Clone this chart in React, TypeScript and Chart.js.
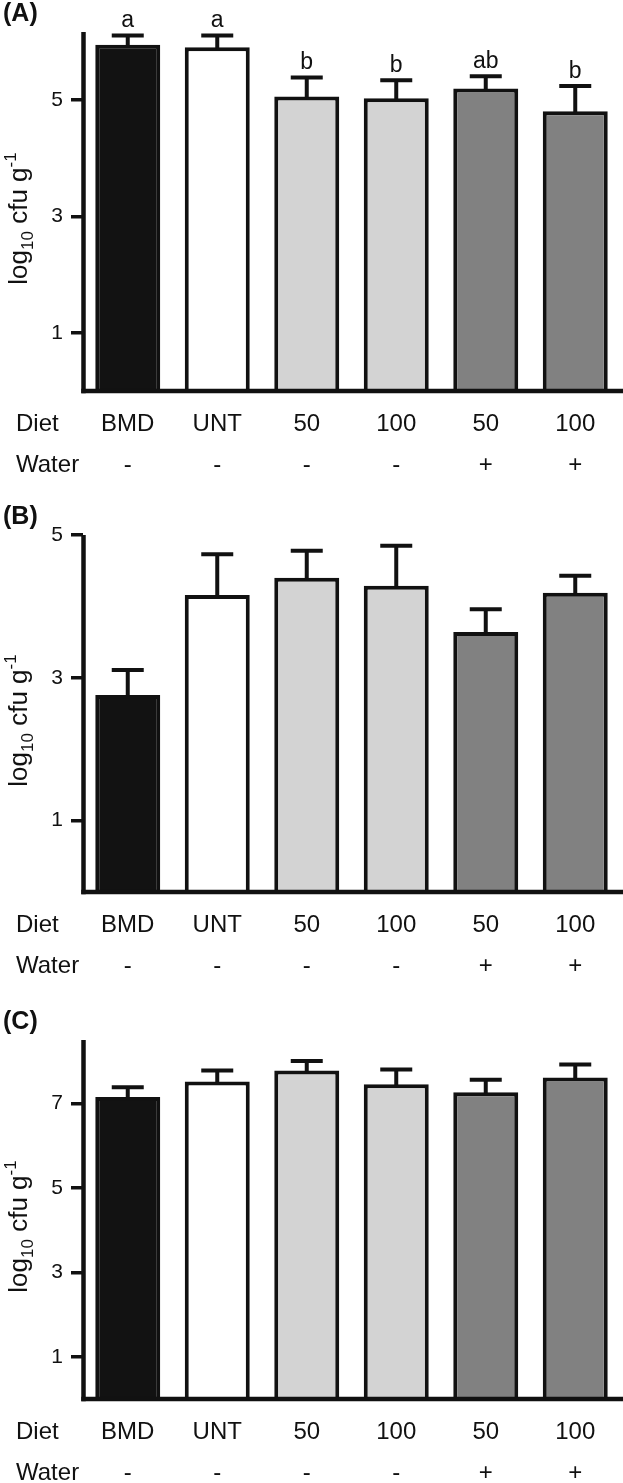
import React, { useEffect, useRef } from "react";
import { Chart, registerables } from "chart.js";
Chart.register(...registerables);

const categories = ["BMD", "UNT", "50", "100", "50", "100"];
const waterLabels = ["-", "-", "-", "-", "+", "+"];
const rowLabels = ["Diet", "Water"];

const meansA = [5.95, 5.91, 5.06, 5.03, 5.2, 4.81];
const errorsA = [0.16, 0.2, 0.33, 0.31, 0.21, 0.43];
const lettersA = ["a", "a", "b", "b", "ab", "b"];
const ticksA = [1, 3, 5];

const meansB = [2.76, 4.16, 4.4, 4.29, 3.64, 4.19];
const errorsB = [0.35, 0.57, 0.38, 0.56, 0.32, 0.24];
const ticksB = [1, 3, 5];

const meansC = [7.15, 7.52, 7.78, 7.45, 7.26, 7.61];
const errorsC = [0.23, 0.26, 0.22, 0.35, 0.3, 0.31];
const ticksC = [1, 3, 5, 7];

const INK = "#111111";
const FILLS = ["#121212", "#ffffff", "#d3d3d3", "#d3d3d3", "#818181", "#818181"];
const FONT = '"Liberation Sans", Arial, Helvetica, sans-serif';
const X_FONT = 24;
const X_LINE = 41;
const X_PAD = 13;

type Panel = {
  name: string;
  means: number[];
  errors: number[];
  letters?: string[];
  ticks: number[];
  yMax: number;
  top: number;
  height: number;
  plotTop: number;
  plotBottom: number;
};

const panels: Panel[] = [
  { name: "(A)", means: meansA, errors: errorsA, letters: lettersA, ticks: ticksA, yMax: 6.17, top: 0, height: 480, plotTop: 32, plotBottom: 391 },
  { name: "(B)", means: meansB, errors: errorsB, ticks: ticksB, yMax: 5, top: 480, height: 500, plotTop: 535, plotBottom: 892 },
  { name: "(C)", means: meansC, errors: errorsC, ticks: ticksC, yMax: 8.5, top: 980, height: 503, plotTop: 1040, plotBottom: 1399 },
];

function drawYTitle(ctx: CanvasRenderingContext2D, cx: number, cy: number) {
  const F = 26;
  const S = 17;
  const segs = [
    { t: "log", size: F, dy: 0 },
    { t: "10", size: S, dy: 0.22 * F },
    { t: " cfu g", size: F, dy: 0 },
    { t: "-1", size: S, dy: -0.42 * F },
  ];
  let total = 0;
  const widths: number[] = [];
  segs.forEach((s) => {
    ctx.font = `${s.size}px ${FONT}`;
    const w = ctx.measureText(s.t).width;
    widths.push(w);
    total += w;
  });
  ctx.save();
  ctx.translate(cx, cy);
  ctx.rotate(-Math.PI / 2);
  ctx.fillStyle = INK;
  ctx.textBaseline = "alphabetic";
  ctx.textAlign = "left";
  let x = -total / 2;
  segs.forEach((s, i) => {
    ctx.font = `${s.size}px ${FONT}`;
    ctx.fillText(s.t, x, s.dy);
    x += widths[i];
  });
  ctx.restore();
}

function makePlugin(p: Panel) {
  return {
    id: "panelDecor",
    afterDatasetsDraw(chart: any) {
      const ctx: CanvasRenderingContext2D = chart.ctx;
      const ca = chart.chartArea;
      const y = chart.scales.y;
      const meta = chart.getDatasetMeta(0);
      ctx.save();
      ctx.strokeStyle = INK;
      ctx.fillStyle = INK;
      ctx.lineWidth = 4;
      ctx.lineCap = "butt";
      meta.data.forEach((el: any, i: number) => {
        const x = el.x;
        const yTop = y.getPixelForValue(p.means[i]);
        const yCap = y.getPixelForValue(p.means[i] + p.errors[i]);
        ctx.beginPath();
        ctx.moveTo(x, yTop + 1);
        ctx.lineTo(x, yCap);
        ctx.stroke();
        ctx.beginPath();
        ctx.moveTo(x - 16, yCap);
        ctx.lineTo(x + 16, yCap);
        ctx.stroke();
        if (p.letters) {
          ctx.font = `23px ${FONT}`;
          ctx.textAlign = "center";
          ctx.textBaseline = "alphabetic";
          ctx.fillText(p.letters[i], x, yCap - 8);
        }
      });
      // axes
      ctx.lineWidth = 4.5;
      const ax = ca.left + 0.5;
      ctx.beginPath();
      ctx.moveTo(ax, ca.top);
      ctx.lineTo(ax, ca.bottom + 2.25);
      ctx.stroke();
      ctx.beginPath();
      ctx.moveTo(ax - 2.25, ca.bottom);
      ctx.lineTo(chart.width, ca.bottom);
      ctx.stroke();
      // row labels
      ctx.font = `${X_FONT}px ${FONT}`;
      ctx.textAlign = "left";
      ctx.textBaseline = "middle";
      const y1 = ca.bottom + X_PAD + X_LINE / 2;
      ctx.fillText(rowLabels[0], 16, y1);
      ctx.fillText(rowLabels[1], 16, y1 + X_LINE);
      // panel label
      ctx.font = `bold 25px ${FONT}`;
      ctx.textBaseline = "alphabetic";
      ctx.fillText(p.name, 3, ca.top - 11);
      // y title
      drawYTitle(ctx, 27, (ca.top + ca.bottom) / 2 + 7);
      ctx.restore();
    },
  };
}

function PanelChart({ p }: { p: Panel }) {
  const ref = useRef<HTMLCanvasElement | null>(null);
  useEffect(() => {
    if (!ref.current) return;
    const padTop = p.plotTop - p.top;
    const xHeight = p.top + p.height - p.plotBottom;
    const chart = new Chart(ref.current, {
      type: "bar",
      data: {
        labels: categories.map((c, i) => [c, waterLabels[i]]),
        datasets: [
          {
            data: p.means,
            backgroundColor: FILLS,
            borderColor: INK,
            borderWidth: 4,
            borderSkipped: "start",
            barPercentage: 0.726,
            categoryPercentage: 1,
          },
        ],
      },
      options: {
        animation: false,
        responsive: false,
        devicePixelRatio: 1,
        layout: { padding: { top: padTop, right: 3, left: 0, bottom: 0 } },
        plugins: { legend: { display: false }, tooltip: { enabled: false }, title: { display: false } },
        scales: {
          x: {
            type: "category",
            offset: true,
            grid: { display: false, drawTicks: false },
            border: { display: false },
            ticks: {
              color: INK,
              padding: X_PAD,
              maxRotation: 0,
              autoSkip: false,
              font: { family: FONT, size: X_FONT, lineHeight: X_LINE / X_FONT },
            },
            afterFit: (scale: any) => {
              scale.height = xHeight;
            },
          },
          y: {
            type: "linear",
            min: 0,
            max: p.yMax,
            grid: {
              drawOnChartArea: false,
              drawTicks: true,
              tickLength: 12,
              tickWidth: 3.5,
              tickColor: INK,
              lineWidth: 3.5,
              color: INK,
            },
            border: { display: false },
            ticks: {
              color: INK,
              padding: 8,
              font: { family: FONT, size: 21 },
            },
            afterBuildTicks: (scale: any) => {
              scale.ticks = p.ticks.map((v) => ({ value: v }));
            },
            afterFit: (scale: any) => {
              scale.width = 83;
            },
          },
        },
      },
      plugins: [makePlugin(p)],
    } as any);
    return () => chart.destroy();
  }, [p]);
  return (
    <canvas
      ref={ref}
      width={623}
      height={p.height}
      style={{ position: "absolute", left: 0, top: p.top, width: 623, height: p.height, display: "block" }}
    />
  );
}

export default function App() {
  return (
    <div style={{ position: "absolute", left: 0, top: 0, width: 623, height: 1483, background: "#fff", overflow: "hidden" }}>
      {panels.map((p) => (
        <PanelChart key={p.name} p={p} />
      ))}
    </div>
  );
}
